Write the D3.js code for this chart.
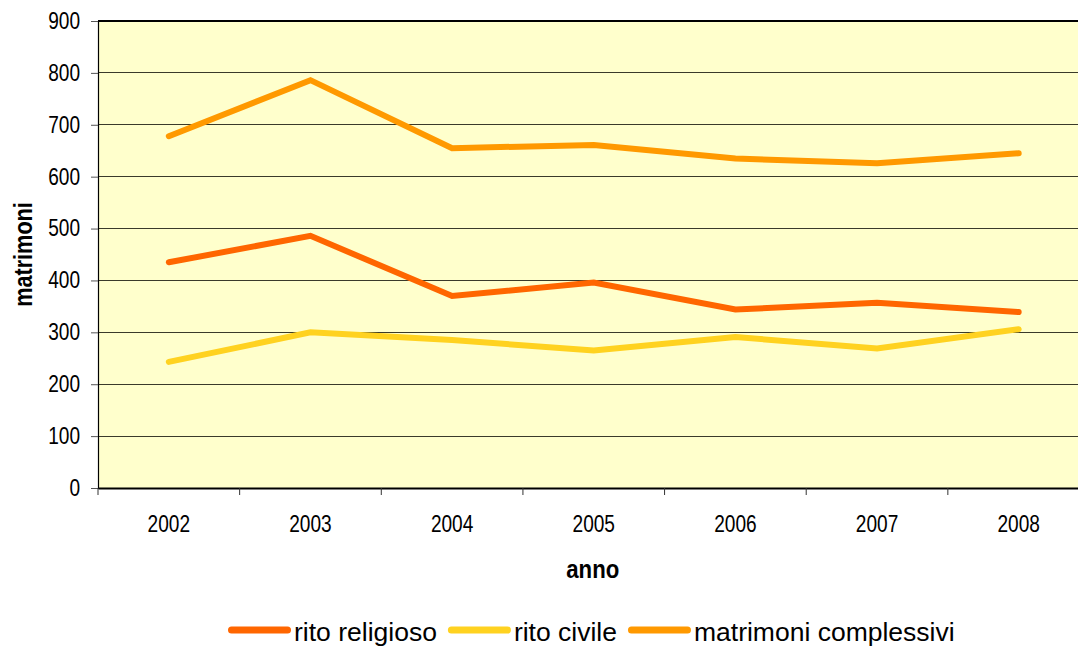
<!DOCTYPE html>
<html>
<head>
<meta charset="utf-8">
<script src="https://cdn.jsdelivr.net/npm/d3@7"></script>
<style>
  html, body { margin: 0; padding: 0; background: #fff; }
  svg { display: block; font-family: "Liberation Sans", Arial, sans-serif; }
</style>
</head>
<body>
<svg id="chart" width="1078" height="648"></svg>
<script>
// Matrimoni per anno e tipo di rito
const anni = ["2002", "2003", "2004", "2005", "2006", "2007", "2008"];
const ritoReligioso = [435, 486, 370, 396, 344, 357, 339];
const ritoCivile = [243, 300, 285, 265, 291, 269, 306];
const matrimoniComplessivi = [678, 786, 655, 661, 635, 626, 645];
const yTicks = [0, 100, 200, 300, 400, 500, 600, 700, 800, 900];

const FONT = "Liberation Sans, Arial, sans-serif";
const NARROW = 0.83; // horizontal condensing of axis labels

const serie = [
  { nome: "rito religioso", valori: ritoReligioso, colore: "#FF6600" },
  { nome: "rito civile", valori: ritoCivile, colore: "#FFD220" },
  { nome: "matrimoni complessivi", valori: matrimoniComplessivi, colore: "#FF9900" }
];

const svg = d3.select("#chart");
const plot = { left: 98, top: 21, bottom: 488, right: 1089.5 };

const x = d3.scaleBand().domain(anni).range([plot.left, plot.right]);
const y = d3.scaleLinear().domain([0, 900]).range([plot.bottom, plot.top]);

// plot area background
svg.append("rect")
  .attr("x", plot.left).attr("y", plot.top)
  .attr("width", 1078 - plot.left).attr("height", plot.bottom - plot.top)
  .attr("fill", "#FFFFCC");

// horizontal gridlines
svg.append("g")
  .selectAll("line")
  .data(yTicks.filter(d => d > 0))
  .join("line")
  .attr("x1", plot.left).attr("x2", 1078)
  .attr("y1", d => y(d)).attr("y2", d => y(d))
  .attr("stroke", d => d === 900 ? "#000" : "#3a3a2a")
  .attr("stroke-width", d => d === 900 ? 1.5 : 1)
  .attr("shape-rendering", "crispEdges");

// y axis
const yAxis = svg.append("g")
  .attr("transform", `translate(${plot.left},0)`)
  .call(d3.axisLeft(y).tickValues(yTicks).tickSize(7).tickFormat(d3.format("d")));
yAxis.select(".domain").attr("stroke", "#000").attr("stroke-width", 1.2);
yAxis.selectAll(".tick line").attr("stroke", "#555");
yAxis.selectAll(".tick text")
  .attr("x", 0)
  .attr("transform", `translate(-18,0) scale(${NARROW},1)`)
  .attr("font-size", 23).attr("fill", "#000")
  .attr("font-family", FONT);

// x axis
const xAxis = svg.append("g")
  .attr("transform", `translate(0,${plot.bottom})`)
  .call(d3.axisBottom(x).tickSize(0).tickPadding(28));
xAxis.select(".domain").attr("stroke", "#000").attr("stroke-width", 2);
xAxis.selectAll(".tick text")
  .attr("transform", `scale(${NARROW},1)`)
  .attr("font-size", 23).attr("fill", "#000")
  .attr("font-family", FONT);

// tick marks between years
svg.append("g")
  .selectAll("line")
  .data(anni)
  .join("line")
  .attr("x1", d => x(d)).attr("x2", d => x(d))
  .attr("y1", plot.bottom).attr("y2", plot.bottom + 7)
  .attr("stroke", "#333").attr("stroke-width", 1);

// axis titles
svg.append("text")
  .attr("transform", `translate(32,${(plot.top + plot.bottom) / 2}) rotate(-90) scale(0.85,1)`)
  .attr("text-anchor", "middle")
  .attr("font-size", 25.5).attr("font-weight", "bold")
  .attr("font-family", FONT)
  .text("matrimoni");

svg.append("text")
  .attr("transform", `translate(${(plot.left + plot.right) / 2 - 1},578) scale(0.87,1)`)
  .attr("text-anchor", "middle")
  .attr("font-size", 25.5).attr("font-weight", "bold")
  .attr("font-family", FONT)
  .text("anno");

// series lines
const line = d3.line()
  .x((d, i) => x(anni[i]) + x.bandwidth() / 2)
  .y(d => y(d));

svg.append("g")
  .selectAll("path")
  .data(serie)
  .join("path")
  .attr("d", s => line(s.valori))
  .attr("fill", "none")
  .attr("stroke", s => s.colore)
  .attr("stroke-width", 6)
  .attr("stroke-linecap", "round")
  .attr("stroke-linejoin", "miter");

// legend
const legend = svg.append("g").attr("transform", "translate(0,630)");
let lx = 228;
serie.forEach(s => {
  legend.append("line")
    .attr("x1", lx + 3.5).attr("x2", lx + 59.5)
    .attr("y1", 0).attr("y2", 0)
    .attr("stroke", s.colore).attr("stroke-width", 7)
    .attr("stroke-linecap", "round");
  const t = legend.append("text")
    .attr("x", lx + 66).attr("y", 11)
    .attr("font-size", 26.5)
    .attr("font-family", FONT)
    .text(s.nome);
  lx += 66 + t.node().getComputedTextLength() + 11;
});
</script>
</body>
</html>
